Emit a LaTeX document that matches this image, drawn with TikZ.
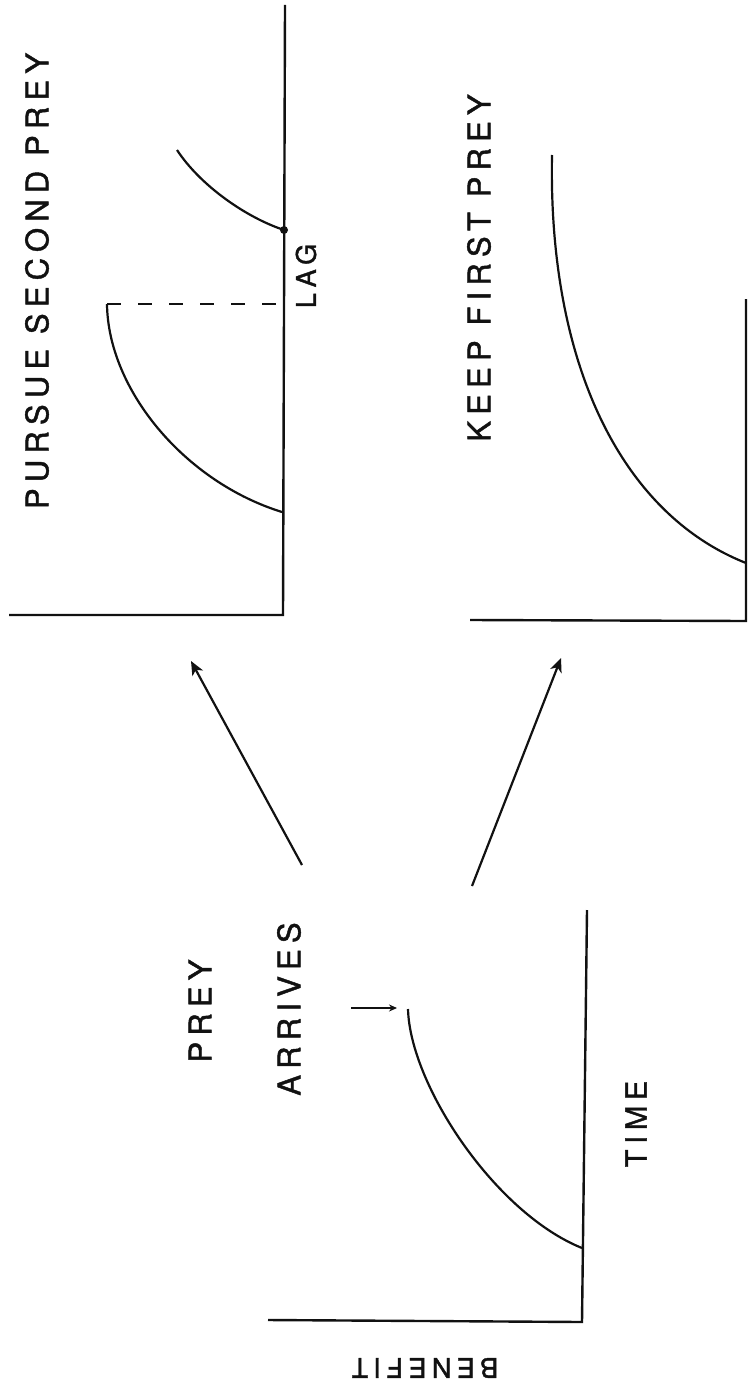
\documentclass[tikz,border=0pt]{standalone}
\usepackage{fontspec}
\setmainfont{TeX Gyre Heros}[LetterSpace=20,FakeBold=1.4]
\usepackage{tikz}
\usetikzlibrary{arrows.meta}
\definecolor{InkLine}{HTML}{111111}

\tikzset{
  axisline/.style={line width=2.4pt},
  gaincurve/.style={line width=2.2pt},
  lagline/.style={line width=2.2pt,dash pattern=on 14pt off 17pt},
  bigarrow/.style={line width=2.2pt,-{Stealth[length=14pt,width=12pt,inset=4pt]}},
  cuearrow/.style={line width=1.4pt,-{Stealth[length=8pt,width=7pt]}},
  caption/.style={inner sep=0pt,font=\fontsize{31}{31}\selectfont}
}

\begin{document}
\begin{tikzpicture}[x=1pt,y=1pt,InkLine]
  \useasboundingbox (0,0) rectangle (749,-1391);
  % pursue second prey
  \draw[axisline] (9,-615) -- (283,-615) -- (285,-5);
  \draw[gaincurve] (282,-512) .. controls (185,-482) and (108,-390) .. (107,-304);
  \draw[lagline] (107,-304) -- (284,-304);
  \draw[gaincurve] (284,-230) .. controls (245,-217) and (200,-185) .. (177,-150);
  \fill (284,-230) circle (4);
  \node[caption,rotate=90] (pursue) at (37,-281) {PURSUE SECOND PREY};
  \node[caption,rotate=90,font=\fontsize{27}{27}\selectfont] (lag) at (306,-276) {LAG};
  % keep first prey
  \draw[axisline] (470,-620) -- (746,-621) -- (746,-299);
  \draw[gaincurve] (746,-563) .. controls (622,-514) and (548,-365) .. (552,-155);
  \node[caption,rotate=90] (keep) at (479,-268) {KEEP FIRST PREY};
  % first prey arrives
  \draw[axisline] (268,-1320) -- (582,-1322) -- (587,-910);
  \draw[gaincurve] (582,-1248) .. controls (495,-1213) and (410,-1085) .. (408,-1009);
  \node[caption,rotate=90] (prey) at (200,-1011) {PREY};
  \node[caption,rotate=90] (arrives) at (289,-1009) {ARRIVES};
  \node[caption,rotate=90,font=\fontsize{29}{29}\selectfont] (time) at (636,-1124) {TIME};
  \node[caption,rotate=180,font=\fontsize{27}{27}\selectfont] (benefit) at (425,-1368) {BENEFIT};
  \coordinate (cueTail) at (351,-1008);
  \coordinate (cueTip) at (397,-1008);
  \draw[cuearrow] (cueTail) -- (cueTip);
  % choices
  \coordinate (pursueTail) at (302,-865);
  \coordinate (pursueTip) at (191,-661);
  \coordinate (keepTail) at (472,-886);
  \coordinate (keepTip) at (561,-658);
  \draw[bigarrow] (pursueTail) -- (pursueTip);
  \draw[bigarrow] (keepTail) -- (keepTip);
\end{tikzpicture}
\end{document}
